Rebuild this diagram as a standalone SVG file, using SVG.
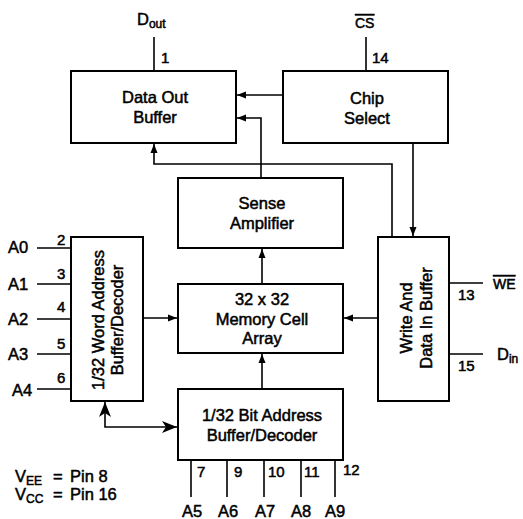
<svg xmlns="http://www.w3.org/2000/svg" width="523" height="519" viewBox="0 0 523 519">
<style>
.box{fill:#fff;stroke:#000;stroke-width:2}
.ln{fill:none;stroke:#000;stroke-width:1.6}
text{font-family:"Liberation Sans",Arial,Helvetica,sans-serif;font-size:16.5px;fill:#000;stroke:#000;stroke-width:0.5}
.c{text-anchor:middle}
.pin{font-size:15px}
.sub{font-size:12px}
.ov{text-decoration:overline}
</style>
<defs>
<marker id="a" markerWidth="10" markerHeight="8" refX="9" refY="4" orient="auto" markerUnits="userSpaceOnUse"><path d="M0,0.5 L9,4 L0,7.5 Z" fill="#000"/></marker>
<marker id="b" markerWidth="16" markerHeight="12" refX="15" refY="6" orient="auto-start-reverse" markerUnits="userSpaceOnUse"><path d="M0,0 L15,6 L0,12 L4,6 Z" fill="#000"/></marker>
</defs>
<rect width="523" height="519" fill="#fff"/>

<g id="connectors">
<path class="ln" d="M283,95 H237" marker-end="url(#a)"/>
<path class="ln" d="M261,178 V118 H237" marker-end="url(#a)"/>
<path class="ln" d="M392,237 V164 H154 V144" marker-end="url(#a)"/>
<path class="ln" d="M413,143 V236" marker-end="url(#a)"/>
<path class="ln" d="M262,284 V249" marker-end="url(#a)"/>
<path class="ln" d="M262,389 V354" marker-end="url(#a)"/>
<path class="ln" d="M143,318 H177" marker-end="url(#a)"/>
<path class="ln" d="M378,318 H344" marker-end="url(#a)"/>
<path class="ln" d="M105,402 V427 H177" marker-start="url(#b)" marker-end="url(#b)"/>
<path class="ln" d="M154,37 V71"/>
<path class="ln" d="M366,37 V71"/>
<path class="ln" d="M37,248 H71 M37,284 H71 M37,319 H71 M37,354 H71 M37,389 H71"/>
<path class="ln" d="M449,283 H483 M449,354 H483"/>
<path class="ln" d="M191,460 V497 M227,460 V497 M264,460 V497 M301,460 V497 M335,460 V497"/>
</g>

<g id="data-out-buffer">
<rect class="box" x="71" y="71" width="165" height="72"/>
<text class="c" x="155" y="103">Data Out</text>
<text class="c" x="155" y="123">Buffer</text>
</g>
<g id="chip-select">
<rect class="box" x="283" y="71" width="165" height="72"/>
<text class="c" x="367" y="104">Chip</text>
<text class="c" x="367" y="124">Select</text>
</g>
<g id="sense-amplifier">
<rect class="box" x="178" y="178" width="165" height="70"/>
<text class="c" x="262" y="209">Sense</text>
<text class="c" x="262" y="229">Amplifier</text>
</g>
<g id="memory-cell-array">
<rect class="box" x="178" y="284" width="165" height="69"/>
<text class="c" x="262" y="305">32 x 32</text>
<text class="c" x="262" y="325">Memory Cell</text>
<text class="c" x="262" y="344">Array</text>
</g>
<g id="bit-address-decoder">
<rect class="box" x="178" y="389" width="165" height="71"/>
<text class="c" x="262" y="421">1/32 Bit Address</text>
<text class="c" x="262" y="441">Buffer/Decoder</text>
</g>
<g id="word-address-decoder">
<rect class="box" x="71" y="237" width="72" height="164"/>
<text class="c" transform="translate(104,320) rotate(-90)">1/32 Word Address</text>
<text class="c" transform="translate(123,320) rotate(-90)">Buffer/Decoder</text>
</g>
<g id="write-data-in-buffer">
<rect class="box" x="378" y="237" width="71" height="164"/>
<text class="c" transform="translate(412,318) rotate(-90)">Write And</text>
<text class="c" transform="translate(432,318) rotate(-90)">Data In Buffer</text>
</g>

<g id="labels">
<text x="137" y="25">D<tspan class="sub" dy="3">out</tspan></text>
<text x="355" y="28" class="ov" style="font-size:14px">CS</text>
<text class="pin" x="161" y="63">1</text>
<text class="pin" x="372" y="63">14</text>
<text x="8" y="253">A0</text>
<text x="8" y="290">A1</text>
<text x="8" y="325">A2</text>
<text x="8" y="360">A3</text>
<text x="12" y="396">A4</text>
<text class="pin" x="57" y="245">2</text>
<text class="pin" x="57" y="279">3</text>
<text class="pin" x="57" y="312">4</text>
<text class="pin" x="57" y="349">5</text>
<text class="pin" x="57" y="383">6</text>
<text class="pin" x="458" y="300">13</text>
<text class="pin" x="458" y="371">15</text>
<text x="493" y="289" class="ov" style="font-size:14px">WE</text>
<text x="497" y="360">D<tspan class="sub" dy="3">in</tspan></text>
<text class="pin" x="197" y="477">7</text>
<text class="pin" x="234" y="477">9</text>
<text class="pin" x="268" y="477">10</text>
<text class="pin" x="304" y="477">11</text>
<text class="pin" x="343" y="475">12</text>
<text class="c" x="192" y="517">A5</text>
<text class="c" x="228" y="517">A6</text>
<text class="c" x="265" y="517">A7</text>
<text class="c" x="301" y="517">A8</text>
<text class="c" x="335" y="517">A9</text>
<text x="15" y="482">V<tspan class="sub" dy="3">EE</tspan></text>
<text x="53" y="482">=</text>
<text x="70" y="482">Pin 8</text>
<text x="15" y="500">V<tspan class="sub" dy="3">CC</tspan></text>
<text x="53" y="500">=</text>
<text x="70" y="500">Pin 16</text>
</g>
</svg>
